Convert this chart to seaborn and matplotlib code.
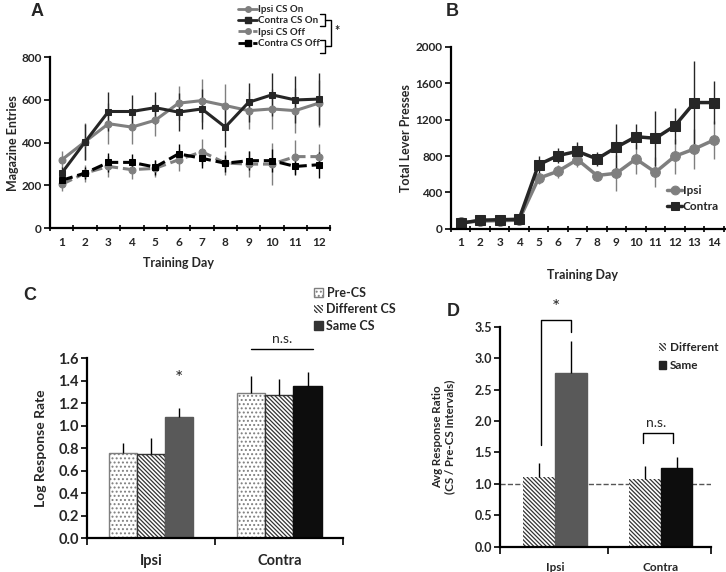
import numpy as np
import pandas as pd
import seaborn as sns
import matplotlib.pyplot as plt
from matplotlib.lines import Line2D
from matplotlib.patches import Patch

sns.set_style('ticks')
plt.rcParams['font.family'] = ['Lato', 'DejaVu Sans']
plt.rcParams['font.weight'] = 'bold'
plt.rcParams['axes.labelweight'] = 'bold'
plt.rcParams['hatch.linewidth'] = 0.9

# ---- panel A: magazine entries ----
days_a = list(range(1, 13))
ipsi_on = [320, 405, 489, 473, 505, 585, 597, 574, 550, 558, 550, 585]
contra_on = [258, 404, 546, 546, 564, 543, 558, 473, 589, 624, 600, 604]
ipsi_off = [205, 258, 289, 274, 280, 320, 358, 305, 300, 300, 335, 335]
contra_off = [224, 258, 308, 308, 286, 348, 327, 304, 316, 316, 289, 297]
ipsi_on_err = [40, 85, 95, 80, 75, 80, 100, 100, 85, 95, 105, 110]
contra_on_err = [30, 85, 90, 75, 75, 90, 95, 95, 90, 100, 110, 120]
ipsi_off_err = [30, 40, 50, 45, 40, 50, 60, 55, 60, 100, 80, 60]
contra_off_err = [25, 30, 45, 40, 35, 45, 45, 40, 45, 55, 40, 60]

# ---- panel B: lever presses ----
days_b = list(range(1, 15))
ipsi_b = [70, 85, 90, 95, 555, 633, 761, 586, 611, 768, 622, 798, 878, 976]
contra_b = [60, 95, 100, 105, 705, 805, 852, 768, 897, 1013, 995, 1133, 1388, 1388]
ipsi_b_err = [15, 15, 15, 15, 60, 70, 80, 40, 200, 160, 165, 190, 215, 205]
contra_b_err = [20, 20, 20, 20, 100, 80, 100, 80, 256, 140, 300, 200, 455, 237]

# ---- panel C: log response rate ----
sides = ['Ipsi', 'Contra']
conds_c = ['Pre-CS', 'Different CS', 'Same CS']
rate_ipsi = [0.76, 0.75, 1.08]
rate_contra = [1.29, 1.27, 1.35]
rate_ipsi_err = [0.09, 0.14, 0.08]
rate_contra_err = [0.15, 0.14, 0.13]

# ---- panel D: response ratio ----
conds_d = ['Different', 'Same']
ratio_ipsi = [1.11, 2.77]
ratio_contra = [1.08, 1.25]
ratio_ipsi_err = [0.22, 0.50]
ratio_contra_err = [0.20, 0.18]

GRAY = '#7f7f7f'
DARK = '#262626'
DIAG = '\\' * 8
DOTS = '.' * 4
W, H = 726, 572


def fx(x):
    return x / W


def fy(y):
    return 1 - y / H


fig = plt.figure(figsize=(7.26, 5.72), dpi=100)
axA = fig.add_axes([0.069, 0.601, 0.386, 0.299])
axB = fig.add_axes([0.621, 0.600, 0.377, 0.318])
axC = fig.add_axes([0.120, 0.059, 0.353, 0.315])
axD = fig.add_axes([0.689, 0.044, 0.291, 0.385])


def style_axis(ax, fs):
    sns.despine(ax=ax)
    for s in ['left', 'bottom']:
        ax.spines[s].set_linewidth(1.6)
        ax.spines[s].set_color('black')
    ax.tick_params(axis='y', length=4, width=1.4, labelsize=fs, pad=2)
    ax.tick_params(axis='x', which='major', length=0, labelsize=fs, pad=6)
    ax.tick_params(axis='x', which='minor', length=5, width=1.4, direction='inout')
    for lab in ax.get_xticklabels() + ax.get_yticklabels():
        lab.set_fontweight('bold')


# panel A
series_a = [
    (ipsi_on, ipsi_on_err, GRAY, 'o', '-', 'Ipsi CS On'),
    (contra_on, contra_on_err, DARK, 's', '-', 'Contra CS On'),
    (ipsi_off, ipsi_off_err, GRAY, 'o', '--', 'Ipsi CS Off'),
    (contra_off, contra_off_err, 'black', 's', '--', 'Contra CS Off'),
]
for vals, err, col, mk, ls, lab in series_a:
    axA.errorbar(days_a, vals, yerr=err, fmt='none', ecolor=col, elinewidth=1, capsize=0, zorder=1)
    sns.lineplot(x=days_a, y=vals, ax=axA, color=col, marker=mk, linestyle=ls,
                 linewidth=2.2, markersize=5, markeredgecolor=col, zorder=2)
axA.set_xlim(0.5, 12.45)
axA.set_ylim(0, 800)
axA.set_yticks([0, 200, 400, 600, 800])
axA.set_xticks(days_a)
axA.set_xticks(np.arange(0.5, 13, 1), minor=True)
axA.set_xlabel('Training Day', fontsize=9)
axA.set_ylabel('Magazine Entries', fontsize=9)
axA.yaxis.set_label_coords(-0.111, 0.5)
axA.xaxis.set_label_coords(0.457, -0.17)
style_axis(axA, 8.5)

hA = [Line2D([], [], color=c, marker=m, linestyle=l, lw=2, markersize=4) for _, _, c, m, l, _ in series_a]
fig.legend(hA, [s[5] for s in series_a], loc='upper left', bbox_to_anchor=(fx(238), fy(5)),
           frameon=False, fontsize=7, handlelength=2.0, handletextpad=0.1, labelspacing=0.25,
           borderpad=0, borderaxespad=0)
# significance bracket
for y0, y1 in [(14, 26), (40, 53)]:
    fig.add_artist(Line2D([fx(320), fx(325), fx(325), fx(320)], [fy(y0), fy(y0), fy(y1), fy(y1)],
                          color='black', lw=1))
fig.add_artist(Line2D([fx(325), fx(331), fx(331), fx(325)], [fy(20), fy(20), fy(46), fy(46)],
                      color='black', lw=1))
fig.text(fx(337), fy(31), '*', fontsize=9, ha='center', va='center')

# panel B
for vals, err, col, mk, lab in [(ipsi_b, ipsi_b_err, GRAY, 'o', 'Ipsi'),
                                (contra_b, contra_b_err, DARK, 's', 'Contra')]:
    axB.errorbar(days_b, vals, yerr=err, fmt='none', ecolor=col, elinewidth=1, capsize=0, zorder=1)
    sns.lineplot(x=days_b, y=vals, ax=axB, color=col, marker=mk, linewidth=2.5,
                 markersize=7, markeredgecolor=col, label=lab, zorder=2)
axB.set_xlim(0.5, 14.55)
axB.set_ylim(0, 2000)
axB.set_yticks([0, 400, 800, 1200, 1600, 2000])
axB.set_xticks(days_b)
axB.set_xticks(np.arange(0.5, 15, 1), minor=True)
axB.set_xlabel('Training Day', fontsize=9)
axB.set_ylabel('Total Lever Presses', fontsize=9)
axB.yaxis.set_label_coords(-0.142, 0.5)
axB.xaxis.set_label_coords(0.48, -0.22)
style_axis(axB, 8.5)
legB = axB.legend(loc='upper left', bbox_to_anchor=(fx(667), fy(185)),
                  bbox_transform=fig.transFigure, frameon=False, fontsize=8.5,
                  handlelength=1.3, handletextpad=0.05, labelspacing=0.45, borderpad=0,
                  borderaxespad=0, markerscale=0.9)

same_col = {'Ipsi': '#595959', 'Contra': '#0d0d0d'}

# panel C
df_c = pd.DataFrame({'side': np.repeat(sides, 3), 'cond': conds_c * 2,
                     'val': rate_ipsi + rate_contra})
err_c = {'Ipsi': rate_ipsi_err, 'Contra': rate_contra_err}
sns.barplot(data=df_c, x='side', y='val', hue='cond', ax=axC, width=0.66,
            errorbar=None, legend=False, palette=['white'] * 3)
bars_c = list(axC.containers)
for i, cont in enumerate(bars_c):
    for j, p in enumerate(cont.patches):
        if i == 0:
            p.set_facecolor('white'); p.set_edgecolor(GRAY); p.set_hatch(DOTS)
        elif i == 1:
            p.set_facecolor('white'); p.set_edgecolor('#333333'); p.set_hatch(DIAG)
        else:
            p.set_facecolor(same_col[sides[j]]); p.set_edgecolor(same_col[sides[j]])
        p.set_linewidth(1)
        xc = p.get_x() + p.get_width() / 2
        axC.errorbar([xc], [p.get_height()], yerr=[[0], [err_c[sides[j]][i]]], fmt='none',
                     ecolor='black', elinewidth=1, capsize=0)
axC.set_xlim(-0.5, 1.5)
axC.set_ylim(0, 1.6)
axC.set_yticks(np.arange(0, 1.61, 0.2))
axC.set_yticklabels([f'{v:.1f}' for v in np.arange(0, 1.61, 0.2)])
axC.set_xticks([-0.5, 0.5, 1.5], minor=True)
axC.set_xlabel('')
axC.set_ylabel('Log Response Rate', fontsize=10)
axC.yaxis.set_label_coords(-0.157, 0.5)
style_axis(axC, 10.5)
axC.tick_params(axis='x', which='minor', direction='out')
axC.tick_params(axis='x', which='major', pad=11)
hC = [Patch(facecolor='white', edgecolor=GRAY, hatch=DOTS),
      Patch(facecolor='white', edgecolor='#333333', hatch=DIAG, linewidth=0),
      Patch(facecolor='#333333', edgecolor='#333333')]
fig.legend(hC, conds_c, loc='upper left', bbox_to_anchor=(fx(314), fy(287)), frameon=False,
           fontsize=9, handlelength=0.7, handleheight=0.7, handletextpad=0.3, labelspacing=0.35,
           borderpad=0, borderaxespad=0)
axC.text(0.22, 1.42, '*', ha='center', va='center', fontsize=14, fontweight='normal')
axC.plot([0.78, 1.26], [1.68, 1.68], color='black', lw=1, clip_on=False)
axC.text(1.02, 1.77, 'n.s.', ha='center', va='center', fontsize=10, fontweight='normal')

# panel D
df_d = pd.DataFrame({'side': np.repeat(sides, 2), 'cond': conds_d * 2,
                     'val': ratio_ipsi + ratio_contra})
err_d = {'Ipsi': ratio_ipsi_err, 'Contra': ratio_contra_err}
sns.barplot(data=df_d, x='side', y='val', hue='cond', ax=axD, width=0.6,
            errorbar=None, legend=False, palette=['white'] * 2)
bars_d = list(axD.containers)
for i, cont in enumerate(bars_d):
    for j, p in enumerate(cont.patches):
        if i == 0:
            p.set_facecolor('white'); p.set_edgecolor('#333333'); p.set_hatch(DIAG)
            p.set_linewidth(0)
        else:
            p.set_facecolor(same_col[sides[j]]); p.set_edgecolor(same_col[sides[j]])
        xc = p.get_x() + p.get_width() / 2
        axD.errorbar([xc], [p.get_height()], yerr=[[0], [err_d[sides[j]][i]]], fmt='none',
                     ecolor='black', elinewidth=1, capsize=0)
axD.axhline(1.0, color='#555555', lw=1, ls='--', zorder=0)
axD.set_xlim(-0.52, 1.48)
axD.set_ylim(0, 3.5)
axD.set_yticks(np.arange(0, 3.51, 0.5))
axD.set_yticklabels([f'{v:.1f}' for v in np.arange(0, 3.51, 0.5)])
axD.set_xticks([-0.52, 0.5, 1.48], minor=True)
axD.set_xlabel('')
axD.set_ylabel('Avg Response Ratio\n(CS / Pre-CS Intervals)', fontsize=8.3, linespacing=1.05)
axD.yaxis.set_label_coords(-0.215, 0.5)
style_axis(axD, 9)
axD.tick_params(axis='x', which='minor', direction='out')
axD.tick_params(axis='x', which='major', pad=11, labelsize=8.5)
hD = [Patch(facecolor='white', edgecolor='#333333', hatch=DIAG, linewidth=0),
      Patch(facecolor='#222222', edgecolor='#222222')]
fig.legend(hD, conds_d, loc='upper left', bbox_to_anchor=(fx(659), fy(342)), frameon=False,
           fontsize=8.5, handlelength=0.6, handleheight=0.6, handletextpad=0.3, labelspacing=0.6,
           borderpad=0, borderaxespad=0)
axD.plot([-0.13, -0.13, 0.15, 0.15], [1.62, 3.6, 3.6, 3.42], color='black', lw=1, clip_on=False)
axD.text(0.01, 3.8, '*', ha='center', va='center', fontsize=14, fontweight='normal')
axD.plot([0.83, 0.83, 1.12, 1.12], [1.65, 1.81, 1.81, 1.65], color='black', lw=1)
axD.text(0.96, 1.97, 'n.s.', ha='center', va='center', fontsize=10, fontweight='normal')

# panel letters
for lab, x, y in [('A', 37, 12), ('B', 452, 12), ('C', 30, 296), ('D', 453, 312)]:
    fig.text(fx(x), fy(y), lab, fontsize=13, fontweight='bold', ha='center', va='center',
             family=['Liberation Sans', 'DejaVu Sans'])

fig.savefig('out.png', dpi=100)
